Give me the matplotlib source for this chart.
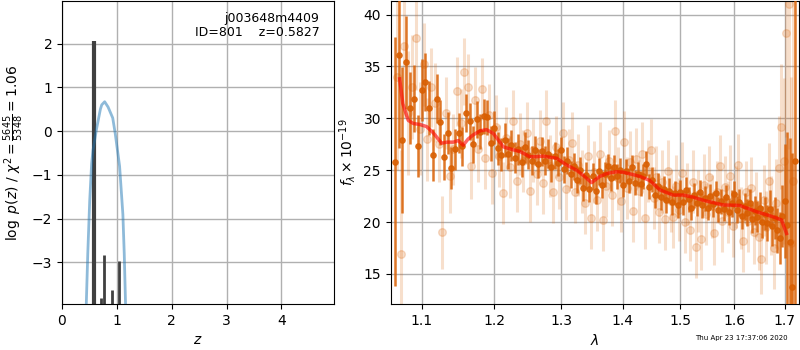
import matplotlib
matplotlib.use("Agg")
import matplotlib.pyplot as plt
from matplotlib.ticker import NullFormatter, FixedLocator, FixedFormatter, NullLocator

# ---------------- left panel data ----------------
pz_z = [0.43, 0.47, 0.505, 0.54, 0.565, 0.63, 0.70, 0.725, 0.778, 0.84, 0.925, 0.97, 1.05, 1.11, 1.135, 1.17]
pz_log = [-4.5, -2.8, -1.6, -0.75, -0.44, 0.05, 0.5, 0.6, 0.67, 0.55, 0.3, -0.05, -0.8, -1.9, -2.8, -4.5]
peak_z = [0.575, 0.711, 0.773, 0.906, 1.040]
peak_log = [2.06, -3.82, -2.83, -3.62, -2.96]
peak_width = [3.0, 2.0, 2.0, 2.0, 2.0]

# ---------------- right panel data ----------------
model_wave = [1.0714, 1.0755, 1.0825, 1.0890, 1.0980, 1.1066, 1.1154, 1.1267, 1.1340, 1.1425,
              1.1493, 1.1562, 1.1630, 1.1702, 1.1800, 1.1891, 1.1985, 1.2060, 1.2130, 1.2252,
              1.2375, 1.2524, 1.2620, 1.2725, 1.2931, 1.3087, 1.3244, 1.3350, 1.3485, 1.3619,
              1.3750, 1.3895, 1.4005, 1.4150, 1.4288, 1.4461, 1.4634, 1.4870, 1.5049, 1.5230,
              1.5414, 1.5787, 1.6106, 1.6432, 1.6763, 1.6932, 1.7034]
model_flux = [33.8, 31.4, 29.8, 29.5, 29.4, 29.2, 28.6, 27.6, 27.7, 27.7,
              27.85, 27.4, 28.0, 28.4, 28.8, 28.9, 28.55, 27.9, 27.25, 27.0,
              26.8, 26.3, 26.3, 26.35, 26.15, 25.5, 25.0, 24.5, 23.8, 24.4,
              24.7, 24.85, 24.8, 24.6, 24.4, 24.0, 23.1, 22.6, 22.6, 22.4,
              22.1, 21.65, 21.6, 21.0, 20.5, 20.2, 18.9]

bin_wave = [1.065, 1.070, 1.075, 1.080, 1.085, 1.090, 1.095, 1.100, 1.105, 1.110,
            1.115, 1.120, 1.125, 1.130, 1.135, 1.140, 1.145, 1.150, 1.155, 1.160,
            1.165, 1.170, 1.175, 1.180, 1.185, 1.190, 1.195, 1.200, 1.205, 1.210,
            1.215, 1.220, 1.225, 1.230, 1.235, 1.240, 1.245, 1.250, 1.255, 1.260,
            1.265, 1.270, 1.275, 1.280, 1.285, 1.290, 1.295, 1.300, 1.305, 1.310,
            1.315, 1.320, 1.325, 1.330, 1.335, 1.340, 1.345, 1.350, 1.355, 1.360,
            1.365, 1.370, 1.375, 1.380, 1.385, 1.390, 1.395, 1.400, 1.405, 1.410,
            1.415, 1.420, 1.425, 1.430, 1.435, 1.440, 1.445, 1.450, 1.455, 1.460,
            1.465, 1.470, 1.475, 1.480, 1.485, 1.490, 1.495, 1.500, 1.505, 1.510,
            1.515, 1.520, 1.525, 1.530, 1.535, 1.540, 1.545, 1.550, 1.555, 1.560,
            1.565, 1.570, 1.575, 1.580, 1.585, 1.590, 1.595, 1.600, 1.605, 1.610,
            1.615, 1.620, 1.625, 1.630, 1.635, 1.640, 1.645, 1.650, 1.655, 1.660,
            1.665, 1.670, 1.675, 1.680, 1.685, 1.690, 1.695, 1.700, 1.705, 1.710,
            1.715, 1.720]
bin_flux = [25.8, 36.1, 27.9, 35.4, 31.0, 31.9, 27.3, 32.7, 33.5, 31.0,
            26.5, 31.9, 29.6, 26.3, 28.6, 25.2, 27.0, 28.6, 27.3, 30.5,
            29.7, 27.5, 29.9, 28.7, 30.2, 30.1, 27.6, 29.1, 27.1, 26.5,
            27.9, 26.6, 27.4, 26.2, 27.0, 25.8, 27.2, 26.5, 25.9, 26.9,
            25.6, 26.8, 25.9, 26.6, 25.3, 26.4, 25.7, 26.9, 25.1, 25.9,
            24.6, 25.4, 24.1, 25.0, 23.3, 24.5, 23.2, 24.4, 23.0, 24.9,
            23.6, 24.6, 25.4, 24.2, 25.3, 24.4, 25.0, 23.6, 24.9, 24.0,
            25.3, 23.8, 24.6, 23.7, 24.4, 25.6, 23.4, 24.1, 22.6, 23.5,
            22.4, 23.2, 22.1, 23.0, 21.9, 22.8, 21.6, 22.9, 21.9, 23.1,
            22.2, 21.4, 22.6, 21.8, 22.9, 21.6, 22.3, 21.4, 22.5, 21.7,
            22.8, 21.2, 22.0, 21.3, 22.4, 21.0, 21.8, 22.7, 21.2, 21.9,
            20.6, 21.5, 20.9, 21.8, 20.3, 21.1, 20.5, 21.4, 20.0, 20.8,
            19.9, 21.3, 19.6, 20.4, 19.2, 18.5, 20.6, 22.0, 19.7, 18.1,
            13.7, 25.9]
bin_err = [12, 9, 7, 4.5, 3.5, 3.2, 3.0, 3.0, 2.8, 2.6,
           2.5, 2.4, 2.2, 2.2, 2.0, 2.0, 2.0, 1.9, 1.9, 1.8,
           1.8, 1.8, 1.8, 1.7, 1.7, 1.7, 1.7, 1.6, 1.6, 1.6,
           1.6, 1.5, 1.5, 1.5, 1.5, 1.5, 1.5, 1.4, 1.4, 1.4,
           1.4, 1.4, 1.4, 1.4, 1.4, 1.3, 1.3, 1.3, 1.3, 1.3,
           1.3, 1.3, 1.3, 1.3, 1.3, 1.3, 1.3, 1.3, 1.3, 1.3,
           1.3, 1.2, 1.2, 1.2, 1.2, 1.2, 1.2, 1.2, 1.2, 1.2,
           1.2, 1.2, 1.2, 1.2, 1.2, 1.2, 1.2, 1.2, 1.2, 1.2,
           1.2, 1.2, 1.2, 1.2, 1.2, 1.2, 1.2, 1.2, 1.2, 1.2,
           1.2, 1.2, 1.2, 1.2, 1.2, 1.2, 1.2, 1.2, 1.2, 1.2,
           1.2, 1.2, 1.2, 1.2, 1.2, 1.3, 1.3, 1.3, 1.3, 1.3,
           1.3, 1.3, 1.3, 1.4, 1.4, 1.4, 1.5, 1.5, 1.5, 1.6,
           1.7, 1.8, 1.9, 2.0, 2.2, 2.5, 3.0, 5.5, 9, 10,
           13, 18]

raw_wave = [1.0675, 1.0725, 1.0775, 1.0825, 1.0875, 1.0925, 1.0975, 1.1025, 1.1075, 1.1125,
            1.1175, 1.1225, 1.1275, 1.1325, 1.1375, 1.1425, 1.1475, 1.1525, 1.1575, 1.1625,
            1.1675, 1.1725, 1.1775, 1.1825, 1.1875, 1.1925, 1.1975, 1.2025, 1.2075, 1.2125,
            1.2175, 1.2225, 1.2275, 1.2325, 1.2375, 1.2425, 1.2475, 1.2525, 1.2575, 1.2625,
            1.2675, 1.2725, 1.2775, 1.2825, 1.2875, 1.2925, 1.2975, 1.3025, 1.3075, 1.3125,
            1.3175, 1.3225, 1.3275, 1.3325, 1.3375, 1.3425, 1.3475, 1.3525, 1.3575, 1.3625,
            1.3675, 1.3725, 1.3775, 1.3825, 1.3875, 1.3925, 1.3975, 1.4025, 1.4075, 1.4125,
            1.4175, 1.4225, 1.4275, 1.4325, 1.4375, 1.4425, 1.4475, 1.4525, 1.4575, 1.4625,
            1.4675, 1.4725, 1.4775, 1.4825, 1.4875, 1.4925, 1.4975, 1.5025, 1.5075, 1.5125,
            1.5175, 1.5225, 1.5275, 1.5325, 1.5375, 1.5425, 1.5475, 1.5525, 1.5575, 1.5625,
            1.5675, 1.5725, 1.5775, 1.5825, 1.5875, 1.5925, 1.5975, 1.6025, 1.6075, 1.6125,
            1.6175, 1.6225, 1.6275, 1.6325, 1.6375, 1.6425, 1.6475, 1.6525, 1.6575, 1.6625,
            1.6675, 1.6725, 1.6775, 1.6825, 1.6875, 1.6925, 1.6975, 1.7025, 1.7075, 1.7125,
            1.7175]
raw_flux = [34.0, 16.9, 37.0, 30.5, 33.0, 37.7, 29.0, 35.2, 28.0, 33.0,
            31.5, 27.5, 19.0, 30.5, 24.4, 27.0, 32.6, 29.5, 34.5, 33.0,
            25.4, 31.8, 27.0, 32.8, 26.2, 30.3, 24.7, 29.2, 26.4, 22.8,
            28.1, 25.3, 29.7, 24.0, 27.5, 25.9, 28.6, 23.0, 26.9, 24.6,
            27.8, 23.8, 29.7, 25.4, 22.9, 27.2, 24.3, 28.6, 23.2, 26.0,
            27.6, 22.9, 25.5, 23.9, 21.8, 26.4, 20.4, 24.8, 22.1, 26.6,
            20.2, 23.5, 25.9, 22.6, 28.8, 24.2, 22.0, 27.7, 23.3, 25.8,
            21.1, 26.1, 23.0, 26.6, 20.4, 24.9, 26.9, 22.3, 24.3, 21.0,
            23.9, 20.3, 24.9, 22.0, 20.5, 23.5, 21.2, 24.7, 20.0, 22.7,
            19.2, 23.9, 17.6, 22.0, 18.4, 23.6, 20.8, 24.3, 21.5, 18.9,
            22.9, 25.4, 20.1, 23.4, 21.0, 24.4, 19.6, 22.4, 25.5, 20.4,
            18.2, 22.9, 20.1, 23.3, 19.0, 21.7, 18.6, 16.4, 22.1, 19.5,
            24.0, 20.6, 17.5, 21.8, 25.2, 29.2, 25.9, 38.2, 41.0, 18.0,
            24.0]
raw_err = [9, 10, 7, 6, 5, 5, 4.5, 4, 4, 3.8,
           3.8, 3.6, 3.5, 3.5, 3.5, 3.4, 3.3, 3.3, 3.2, 3.2,
           3.2, 3.1, 3.1, 3.0, 3.0, 3.0, 3.0, 3.0, 3.0, 3.0,
           3.0, 3.0, 3.0, 3.0, 3.0, 3.0, 3.0, 3.0, 3.0, 3.0,
           3.0, 3.0, 3.0, 3.0, 3.0, 3.0, 3.0, 3.0, 3.0, 3.0,
           3.0, 3.0, 3.0, 3.0, 3.0, 3.0, 3.0, 3.0, 3.0, 3.0,
           3.0, 3.0, 3.0, 3.0, 3.0, 3.0, 3.0, 3.0, 3.0, 3.0,
           3.0, 3.0, 3.0, 3.0, 3.0, 3.0, 3.0, 3.0, 3.0, 3.0,
           3.0, 3.0, 3.0, 3.0, 3.0, 3.0, 3.0, 3.0, 3.0, 3.0,
           3.0, 3.0, 3.0, 3.0, 3.0, 3.0, 3.0, 3.0, 3.0, 3.0,
           3.0, 3.0, 3.0, 3.0, 3.0, 3.0, 3.0, 3.0, 3.0, 3.0,
           3.0, 3.0, 3.0, 3.0, 3.0, 3.1, 3.2, 3.3, 3.4, 3.5,
           3.6, 3.8, 4.0, 4.3, 5, 6, 8, 10, 14, 16,
           20]

wave_ticks = [1.1, 1.2, 1.3, 1.4, 1.5, 1.6, 1.7]
wave_labels = ["1.1", "1.2", "1.3", "1.4", "1.5", "1.6", "1.7"]
flux_ticks = [15, 20, 25, 30, 35, 40]
z_ticks = [0, 1, 2, 3, 4]
logp_ticks = [-3, -2, -1, 0, 1, 2]

orange = "#d95f02"

fig = plt.figure(figsize=(8, 3.5), dpi=100)

# ---------------- left: p(z) ----------------
ax1 = fig.add_axes([0.0775, 0.1314, 0.34, 0.8656])
ax1.vlines(peak_z, -5, peak_log, colors="0.25", linewidths=peak_width, zorder=2)
ax1.plot(pz_z, pz_log, color="#1f77b4", alpha=0.5, lw=2, zorder=3)
ax1.set_xlim(0, 4.96)
ax1.set_ylim(-3.95, 2.97)
ax1.set_xticks(z_ticks)
ax1.set_yticks(logp_ticks)
ax1.grid(True, color="#b0b0b0", lw=1)
ax1.set_axisbelow(True)
ax1.set_xlabel(r"$z$", fontsize=10)
ax1.set_ylabel(r"$\log\ p(z)$ / $\chi^2=\frac{5645}{5348}=1.06$", fontsize=10)
ax1.text(0.946, 0.965, "j003648m4409\nID=801    z=0.5827", transform=ax1.transAxes,
         ha="right", va="top", fontsize=9, linespacing=1.1)

# ---------------- right: spectrum ----------------
ax2 = fig.add_axes([0.4884, 0.1314, 0.5106, 0.8656])
ax2.errorbar(raw_wave, raw_flux, yerr=raw_err, color=orange, alpha=0.2, marker="o",
             linestyle="none", ms=5.5, elinewidth=2.2, zorder=2)
ax2.errorbar(bin_wave, bin_flux, yerr=bin_err, color=orange, alpha=0.85, marker="o",
             linestyle="none", ms=3.8, elinewidth=1.8, zorder=3)
ax2.plot(model_wave, model_flux, color="red", alpha=0.6, lw=2.5, zorder=4)
ax2.set_xscale("log")
ax2.xaxis.set_major_locator(FixedLocator(wave_ticks))
ax2.xaxis.set_major_formatter(FixedFormatter(wave_labels))
ax2.xaxis.set_minor_locator(NullLocator())
ax2.xaxis.set_minor_formatter(NullFormatter())
ax2.set_xlim(1.06, 1.7295)
ax2.set_ylim(12.1, 41.3)
ax2.set_yticks(flux_ticks)
ax2.grid(True, color="#b0b0b0", lw=1)
ax2.set_axisbelow(True)
ax2.set_xlabel(r"$\lambda$", fontsize=10)
ax2.set_ylabel(r"$f_\lambda \times 10^{-19}$", fontsize=10)

fig.text(0.984, 0.025, "Thu Apr 23 17:37:06 2020", ha="right", va="bottom", fontsize=5)

fig.savefig("out.png", dpi=100)
